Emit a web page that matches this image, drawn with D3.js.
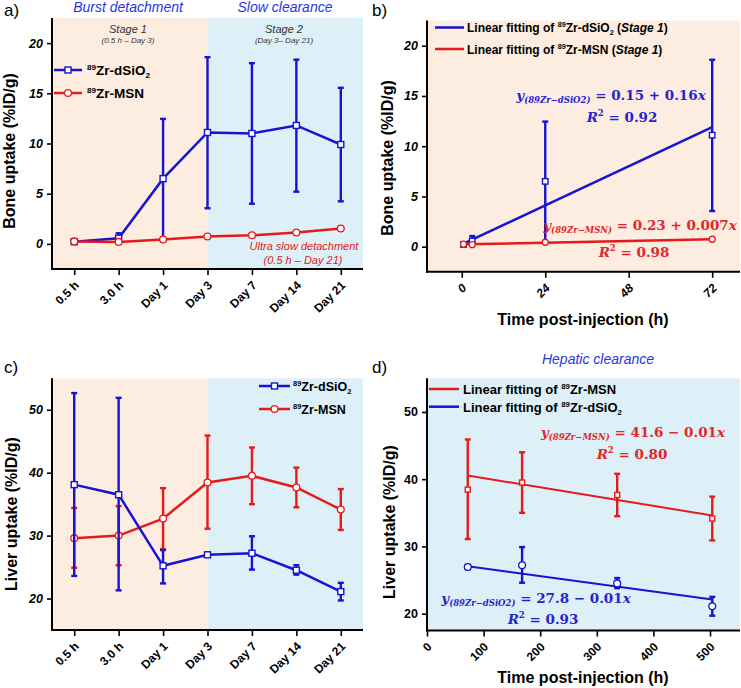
<!DOCTYPE html>
<html><head><meta charset="utf-8">
<script src="https://cdn.jsdelivr.net/npm/d3@7"></script>
<style>body{margin:0;background:#fff}svg{display:block}</style>
</head><body>
<svg id="chart" width="741" height="688"></svg>
<script>
// ---------- data ----------
const categories = ["0.5 h","3.0 h","Day 1","Day 3","Day 7","Day 14","Day 21"];
// Bone uptake (%ID/g)
const boneDSiO2   = [0.22, 0.57, 6.5, 11.1, 11.0, 11.8, 9.9];
const boneDSiO2Hi = [0.35, 1.06, 12.45, 18.6, 18.0, 18.35, 15.55];
const boneDSiO2Lo = [0.1, 0.1, 0.4, 3.55, 4.0, 5.2, 4.24];
const boneMSN     = [0.25, 0.2, 0.44, 0.74, 0.86, 1.13, 1.53];
const boneMSNHi   = [0.32, 0.28, 0.52, 0.82, 0.94, 1.22, 1.62];
const boneMSNLo   = [0.18, 0.12, 0.36, 0.66, 0.78, 1.04, 1.44];
// Stage 1 hours (panel b)
const stage1Hours = [0.5, 3, 24, 72];
const fitBoneDSiO2 = [[0.5, 0.3], [72, 11.9]];
const fitBoneMSN   = [[0.5, 0.23], [72, 0.73]];
// Liver uptake (%ID/g)
const liverDSiO2   = [38.1, 36.5, 25.2, 26.95, 27.2, 24.5, 21.1];
const liverDSiO2Hi = [52.65, 51.9, 27.7, 27.25, 29.9, 25.3, 22.5];
const liverDSiO2Lo = [23.6, 21.3, 22.4, 26.65, 24.6, 23.8, 19.7];
const liverMSN     = [29.6, 30.0, 32.7, 38.45, 39.5, 37.65, 34.15];
const liverMSNHi   = [34.4, 34.7, 37.55, 45.9, 44.0, 40.8, 37.4];
const liverMSNLo   = [24.9, 25.3, 27.85, 31.1, 35.0, 34.5, 30.9];
// Stage 2 hours (panel d)
const stage2Hours = [72, 168, 336, 504];
const fitLiverMSN   = [[72, 40.55], [504, 34.6]];
const fitLiverDSiO2 = [[72, 27.05], [504, 22.1]];
// tick labels
const boneTicks = [0, 5, 10, 15, 20];
const liverTicks = [20, 30, 40, 50];
const bHourTicks = [0, 24, 48, 72];
const dHourTicks = [0, 100, 200, 300, 400, 500];

// ---------- style ----------
const BLUE = "#1414d2", RED = "#e61a1a";
const PEACH = "#fdece0", SKY = "#ddf0f8";
const TBLUE = "#2a35e6";
const SANS = "'Liberation Sans', Arial, sans-serif";
const SERIF = "'DejaVu Serif', serif";
const svg = d3.select("#chart");

function axes(g, x, y, box, yTicks, yItalic, xTicks, xFmt, xItalic) {
  const ya = g.append("g").attr("transform", `translate(${box.l},0)`)
    .call(d3.axisLeft(y).tickValues(yTicks).tickSize(5).tickSizeOuter(0).tickPadding(4));
  ya.select(".domain").remove();
  ya.selectAll("line").attr("stroke", "#000").attr("stroke-width", 1.6);
  ya.selectAll("text").attr("font-family", SANS).attr("font-weight", "bold")
    .attr("font-style", yItalic ? "italic" : "normal").attr("font-size", 12.5).attr("fill", "#000");
  const xa = g.append("g").attr("transform", `translate(0,${box.b})`)
    .call(d3.axisBottom(x).tickValues(xTicks).tickFormat(xFmt).tickSize(6).tickSizeOuter(0));
  xa.select(".domain").remove();
  xa.selectAll("line").attr("stroke", "#000").attr("stroke-width", 1.6);
  xa.selectAll("text").attr("font-family", SANS).attr("font-weight", "bold")
    .attr("font-style", xItalic ? "italic" : "normal").attr("font-size", 12).attr("fill", "#000")
    .attr("text-anchor", "end").attr("dy", 0).attr("y", 0)
    .attr("transform", "translate(5,17) rotate(-45)");
  g.append("line").attr("x1", box.l).attr("x2", box.l).attr("y1", box.t).attr("y2", box.b + 1)
    .attr("stroke", "#000").attr("stroke-width", 2);
  g.append("line").attr("x1", box.l - 1).attr("x2", box.r).attr("y1", box.b).attr("y2", box.b)
    .attr("stroke", "#000").attr("stroke-width", 2);
}

function errBars(g, xs, hi, lo, color, cap = 3) {
  xs.forEach((xv, i) => {
    g.append("line").attr("x1", xv).attr("x2", xv).attr("y1", hi[i]).attr("y2", lo[i])
      .attr("stroke", color).attr("stroke-width", 2.4);
    [hi[i], lo[i]].forEach(yv => g.append("line").attr("x1", xv - cap).attr("x2", xv + cap)
      .attr("y1", yv).attr("y2", yv).attr("stroke", color).attr("stroke-width", 2.4));
  });
}
function squares(g, xs, ys, color, s = 6) {
  g.selectAll(null).data(xs).enter().append("rect")
    .attr("x", (d) => d - s / 2).attr("y", (d, i) => ys[i] - s / 2).attr("width", s).attr("height", s)
    .attr("fill", "#fff").attr("stroke", color).attr("stroke-width", 1.4);
}
function circles(g, xs, ys, color, r = 3.4) {
  g.selectAll(null).data(xs).enter().append("circle")
    .attr("cx", d => d).attr("cy", (d, i) => ys[i]).attr("r", r)
    .attr("fill", "#fff").attr("stroke", color).attr("stroke-width", 1.3);
}
function polyline(g, xs, ys, color, w = 2.5) {
  g.append("path").attr("d", d3.line()(xs.map((x, i) => [x, ys[i]])))
    .attr("fill", "none").attr("stroke", color).attr("stroke-width", w);
}
function zrLabel(g, x, y, name, sub, size, extra) {
  const t = g.append("text").attr("x", x).attr("y", y).attr("font-family", SANS)
    .attr("font-weight", "bold").attr("font-size", size).attr("fill", "#000");
  if (extra) t.append("tspan").text(extra);
  t.append("tspan").attr("font-size", size * 0.6).attr("dy", -size * 0.38).text("89");
  t.append("tspan").attr("dy", size * 0.38).text("Zr-" + name);
  if (sub) t.append("tspan").attr("font-size", size * 0.6).attr("dy", size * 0.25).text(sub);
  return t;
}
function label(g, x, y, txt, size, color, opts = {}) {
  return g.append("text").attr("x", x).attr("y", y).text(txt)
    .attr("font-family", opts.family || SANS).attr("font-size", size).attr("fill", color)
    .attr("font-style", opts.italic ? "italic" : "normal")
    .attr("font-weight", opts.bold ? "bold" : "normal")
    .attr("text-anchor", opts.anchor || "start");
}
function yTitle(g, x, y, txt) {
  g.append("text").attr("transform", `translate(${x},${y}) rotate(-90)`).text(txt)
    .attr("font-family", SANS).attr("font-weight", "bold").attr("font-size", 16)
    .attr("text-anchor", "middle").attr("fill", "#000");
}
function equation(g, x, y, color, sub, rhs) {
  const t = g.append("text").attr("x", x).attr("y", y).attr("font-family", SERIF)
    .attr("font-weight", "bold").attr("font-size", 13.5).attr("fill", color).attr("text-anchor", "middle");
  t.append("tspan").attr("font-style", "italic").text("y");
  t.append("tspan").attr("font-style", "italic").attr("font-size", 8.5).attr("dy", 3).text(sub);
  t.append("tspan").attr("dy", -3).text(" = " + rhs);
  t.append("tspan").attr("font-style", "italic").text("x");
}
function r2(g, x, y, color, val) {
  const t = g.append("text").attr("x", x).attr("y", y).attr("font-family", SERIF)
    .attr("font-weight", "bold").attr("font-size", 13.5).attr("fill", color).attr("text-anchor", "middle");
  t.append("tspan").attr("font-style", "italic").text("R");
  t.append("tspan").attr("font-size", 8.5).attr("dy", -6).text("2");
  t.append("tspan").attr("dy", 6).text(" = " + val);
}
function legendRow(g, x1, x2, y, color, marker) {
  g.append("line").attr("x1", x1).attr("x2", x2).attr("y1", y).attr("y2", y)
    .attr("stroke", color).attr("stroke-width", 2.5);
  if (marker === "sq") squares(g, [(x1 + x2) / 2], [y], color);
  if (marker === "ci") circles(g, [(x1 + x2) / 2], [y], color);
}

// ================= Panel a =================
{
  const box = {l: 52, r: 363, t: 18, b: 269};
  const g = svg.append("g");
  const x = d3.scalePoint().domain(categories).range([box.l, box.r]).padding(0.5);
  const y = d3.scaleLinear().domain([-2.5, 22.5]).range([box.b, box.t]);
  const xd3 = x("Day 3");
  g.append("rect").attr("x", box.l).attr("y", box.t).attr("width", xd3 - box.l).attr("height", box.b - box.t).attr("fill", PEACH);
  g.append("rect").attr("x", xd3).attr("y", box.t).attr("width", box.r - xd3).attr("height", box.b - box.t).attr("fill", SKY);
  axes(g, x, y, box, boneTicks, true, categories, d => d, false);
  const xs = categories.map(c => x(c));
  errBars(g, xs, boneDSiO2Hi.map(y), boneDSiO2Lo.map(y), BLUE);
  polyline(g, xs, boneDSiO2.map(y), BLUE);
  squares(g, xs, boneDSiO2.map(y), BLUE);
  errBars(g, xs, boneMSNHi.map(y), boneMSNLo.map(y), RED, 2.5);
  polyline(g, xs, boneMSN.map(y), RED);
  circles(g, xs, boneMSN.map(y), RED);
  label(g, 4, 16, "a)", 17, "#000");
  label(g, 128, 12, "Burst detachment", 14, TBLUE, {italic: true, anchor: "middle"});
  label(g, 285, 12, "Slow clearance", 14, TBLUE, {italic: true, anchor: "middle"});
  label(g, 128, 33, "Stage 1", 11, "#333", {italic: true, anchor: "middle"});
  label(g, 128, 43, "(0.5 h – Day 3)", 8, "#333", {italic: true, anchor: "middle"});
  label(g, 284, 33, "Stage 2", 11, "#333", {italic: true, anchor: "middle"});
  label(g, 284, 43, "(Day 3– Day 21)", 8, "#333", {italic: true, anchor: "middle"});
  label(g, 304, 250, "Ultra slow detachment", 11, "#e02020", {italic: true, anchor: "middle"});
  label(g, 303, 264, "(0.5 h – Day 21)", 11, "#e02020", {italic: true, anchor: "middle"});
  legendRow(g, 54, 82, 70, BLUE, "sq");
  legendRow(g, 54, 82, 93, RED, "ci");
  zrLabel(g, 87, 75, "dSiO", "2", 13.5);
  zrLabel(g, 87, 98, "MSN", null, 13.5);
  yTitle(g, 15, 151, "Bone uptake (%ID/g)");
}

// ================= Panel b =================
{
  const box = {l: 427, r: 740, t: 20.6, b: 271.8};
  const g = svg.append("g");
  const x = d3.scaleLinear().domain([-10, 80]).range([box.l, box.r]);
  const y = d3.scaleLinear().domain([-2.5, 22.5]).range([box.b, box.t]);
  g.append("rect").attr("x", box.l).attr("y", box.t).attr("width", box.r - box.l).attr("height", box.b - box.t).attr("fill", PEACH);
  axes(g, x, y, box, boneTicks, true, bHourTicks, d => d, true);
  const xs = stage1Hours.map(x);
  errBars(g, xs, boneDSiO2Hi.slice(0, 4).map(y), boneDSiO2Lo.slice(0, 4).map(y), BLUE);
  polyline(g, fitBoneDSiO2.map(d => x(d[0])), fitBoneDSiO2.map(d => y(d[1])), BLUE);
  squares(g, xs, boneDSiO2.slice(0, 4).map(y), BLUE, 5.5);
  errBars(g, xs, boneMSNHi.slice(0, 4).map(y), boneMSNLo.slice(0, 4).map(y), RED, 2.5);
  polyline(g, fitBoneMSN.map(d => x(d[0])), fitBoneMSN.map(d => y(d[1])), RED);
  circles(g, xs, boneMSN.slice(0, 4).map(y), RED, 3);
  label(g, 372, 16, "b)", 17, "#000");
  legendRow(g, 435, 464, 27.5, BLUE);
  legendRow(g, 435, 464, 49, RED);
  const t1 = zrLabel(g, 467, 32, "dSiO", "2", 12, "Linear fitting of ");
  t1.append("tspan").attr("dy", -3).text(" (");
  t1.append("tspan").attr("font-style", "italic").text("Stage 1");
  t1.append("tspan").text(")");
  const t2 = zrLabel(g, 467, 53.5, "MSN", null, 12, "Linear fitting of ");
  t2.append("tspan").text(" (");
  t2.append("tspan").attr("font-style", "italic").text("Stage 1");
  t2.append("tspan").text(")");
  equation(g, 611, 100, "#2424d0", "(89Zr−dSiO2)", "0.15 + 0.16");
  r2(g, 622, 122, "#2424d0", "0.92");
  equation(g, 640, 230, "#e02828", "(89Zr−MSN)", "0.23 + 0.007");
  r2(g, 634, 257, "#e02828", "0.98");
  label(g, 583, 325, "Time post-injection (h)", 16, "#000", {bold: true, anchor: "middle"});
  yTitle(g, 393, 158, "Bone uptake (%ID/g)");
}

// ================= Panel c =================
{
  const box = {l: 52, r: 363, t: 378.3, b: 630};
  const g = svg.append("g");
  const x = d3.scalePoint().domain(categories).range([box.l, box.r]).padding(0.5);
  const y = d3.scaleLinear().domain([15, 55]).range([box.b, box.t]);
  const xd3 = x("Day 3");
  g.append("rect").attr("x", box.l).attr("y", box.t).attr("width", xd3 - box.l).attr("height", box.b - box.t).attr("fill", PEACH);
  g.append("rect").attr("x", xd3).attr("y", box.t).attr("width", box.r - xd3).attr("height", box.b - box.t).attr("fill", SKY);
  axes(g, x, y, box, liverTicks, true, categories, d => d, false);
  const xs = categories.map(c => x(c));
  errBars(g, xs, liverMSNHi.map(y), liverMSNLo.map(y), RED);
  polyline(g, xs, liverMSN.map(y), RED);
  circles(g, xs, liverMSN.map(y), RED);
  errBars(g, xs, liverDSiO2Hi.map(y), liverDSiO2Lo.map(y), BLUE);
  polyline(g, xs, liverDSiO2.map(y), BLUE);
  squares(g, xs, liverDSiO2.map(y), BLUE);
  label(g, 4, 373, "c)", 17, "#000");
  legendRow(g, 259, 290, 386, BLUE, "sq");
  legendRow(g, 259, 290, 409, RED, "ci");
  zrLabel(g, 293, 390.5, "dSiO", "2", 12.5);
  zrLabel(g, 293, 413.5, "MSN", null, 12.5);
  yTitle(g, 17, 514, "Liver uptake (%ID/g)");
}

// ================= Panel d =================
{
  const box = {l: 427, r: 740, t: 378.3, b: 630.5};
  const g = svg.append("g");
  const x = d3.scaleLinear().domain([0, 553]).range([box.l, box.r]);
  const y = d3.scaleLinear().domain([17.5, 55]).range([box.b, box.t]);
  g.append("rect").attr("x", box.l).attr("y", box.t).attr("width", box.r - box.l).attr("height", box.b - box.t).attr("fill", SKY);
  axes(g, x, y, box, liverTicks, false, dHourTicks, d => d, false);
  const xs = stage2Hours.map(x);
  errBars(g, xs, liverMSNHi.slice(3).map(y), liverMSNLo.slice(3).map(y), RED);
  polyline(g, fitLiverMSN.map(d => x(d[0])), fitLiverMSN.map(d => y(d[1])), RED, 2);
  squares(g, xs, liverMSN.slice(3).map(y), RED, 5);
  errBars(g, xs, liverDSiO2Hi.slice(3).map(y), liverDSiO2Lo.slice(3).map(y), BLUE);
  polyline(g, fitLiverDSiO2.map(d => x(d[0])), fitLiverDSiO2.map(d => y(d[1])), BLUE, 2);
  circles(g, xs, liverDSiO2.slice(3).map(y), BLUE, 3.4);
  label(g, 372, 373, "d)", 17, "#000");
  label(g, 598, 364, "Hepatic clearance", 14, TBLUE, {italic: true, anchor: "middle"});
  legendRow(g, 429, 459, 389, RED);
  legendRow(g, 429, 459, 406.7, BLUE);
  zrLabel(g, 463, 394, "MSN", null, 13, "Linear fitting of ");
  zrLabel(g, 463, 411.5, "dSiO", "2", 13, "Linear fitting of ");
  equation(g, 633, 437, "#e02828", "(89Zr−MSN)", "41.6 − 0.01");
  r2(g, 632, 459, "#e02828", "0.80");
  equation(g, 536, 603, "#2424d0", "(89Zr−dSiO2)", "27.8 − 0.01");
  r2(g, 543, 624, "#2424d0", "0.93");
  label(g, 583, 683, "Time post-injection (h)", 16, "#000", {bold: true, anchor: "middle"});
  yTitle(g, 395, 522, "Liver uptake (%ID/g)");
}
</script>
</body></html>
